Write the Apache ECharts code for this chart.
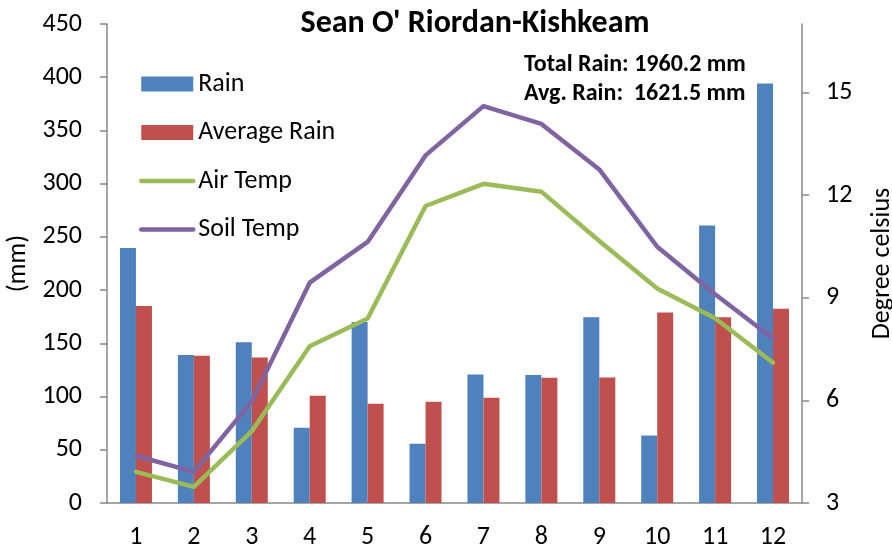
<!DOCTYPE html>
<html>
<head>
<meta charset="utf-8">
<title>Sean O' Riordan-Kishkeam</title>
<script src="https://cdn.jsdelivr.net/npm/echarts@6/dist/echarts.min.js"></script>
<style>
  html, body { margin: 0; padding: 0; background: #fff; }
  #chart { width: 892px; height: 549px; }
</style>
</head>
<body>
<div id="chart"></div>
<script>
const months = ['1', '2', '3', '4', '5', '6', '7', '8', '9', '10', '11', '12']
const rain = [239.5, 139, 151, 70.7, 170, 55.7, 120.8, 120.2, 174.4, 63.5, 260.6, 394]
const avgRain = [185, 138.4, 136.8, 100.8, 93.3, 95.2, 98.9, 117.7, 118, 179, 174.4, 182.5]
const airTemp = [3.91, 3.47, 5.1, 7.58, 8.39, 11.68, 12.33, 12.1, 10.66, 9.27, 8.4, 7.1]
const soilTemp = [4.38, 3.91, 5.97, 9.44, 10.63, 13.16, 14.6, 14.08, 12.75, 10.49, 9.1, 7.81]
const tempTicks = [3, 6, 9, 12, 15]
const notes = ['Total Rain: 1960.2 mm', 'Avg. Rain:  1621.5 mm']

const font = 'Carlito, Lato, "Open Sans", sans-serif'
const axisGray = '#898989'

const chart = echarts.init(document.getElementById('chart'))

chart.setOption({
  backgroundColor: '#fff',
  animation: false,
  textStyle: { fontFamily: font, color: '#000' },
  title: {
    text: "Sean O' Riordan-Kishkeam",
    left: 470,
    textAlign: 'center',
    top: 3,
    textStyle: { fontFamily: font, fontSize: 32, fontWeight: 'bold', color: '#000' }
  },
  graphic: notes.map((t, i) => ({
    type: 'text',
    left: 524,
    top: 53 + i * 29,
    style: { text: t, fontFamily: font, fontSize: 24, fontWeight: 'bold', fill: '#000' }
  })),
  legend: {
    orient: 'vertical',
    left: 134,
    top: 66,
    itemWidth: 52,
    itemHeight: 15,
    itemGap: 22.5,
    lineStyle: { width: 4.5, cap: 'round' },
    textStyle: { fontFamily: font, fontSize: 26, color: '#000', lineHeight: 26 },
    data: [
      { name: 'Rain', icon: 'rect' },
      { name: 'Average Rain', icon: 'rect' },
      { name: 'Air Temp', itemStyle: { opacity: 0 } },
      { name: 'Soil Temp', itemStyle: { opacity: 0 } }
    ]
  },
  grid: { left: 107, right: 90, top: 24, bottom: 46, outerBoundsMode: 'none' },
  xAxis: {
    type: 'category',
    data: months,
    axisLine: { lineStyle: { color: axisGray, width: 1.5 } },
    axisTick: { length: 7, lineStyle: { color: axisGray, width: 1.5 } },
    axisLabel: { fontFamily: font, fontSize: 26, color: '#000', margin: 21 }
  },
  yAxis: [
    {
      type: 'value',
      min: 0,
      max: 450,
      interval: 50,
      name: '(mm)',
      nameLocation: 'middle',
      nameRotate: 90,
      nameGap: 76,
      nameTextStyle: { fontFamily: font, fontSize: 26, color: '#000' },
      splitLine: { show: false },
      axisLine: { show: true, lineStyle: { color: axisGray, width: 1.5 } },
      axisTick: { show: true, length: 7, lineStyle: { color: axisGray, width: 1.5 } },
      axisLabel: { fontFamily: font, fontSize: 26, color: '#000', margin: 25 }
    },
    {
      type: 'value',
      min: 3,
      max: 17,
      name: 'Degree celsius',
      nameLocation: 'middle',
      nameRotate: 90,
      nameGap: 67,
      nameTextStyle: { fontFamily: font, fontSize: 26, color: '#000' },
      splitLine: { show: false },
      axisLine: { show: true, lineStyle: { color: axisGray, width: 1.5 } },
      axisTick: { show: true, length: 7, customValues: tempTicks, lineStyle: { color: axisGray, width: 1.5 } },
      axisLabel: { fontFamily: font, fontSize: 26, color: '#000', margin: 24, customValues: tempTicks }
    }
  ],
  series: [
    {
      name: 'Rain',
      type: 'bar',
      data: rain,
      barWidth: 16,
      barGap: '0%',
      itemStyle: { color: '#4F81BD' }
    },
    {
      name: 'Average Rain',
      type: 'bar',
      data: avgRain,
      barWidth: 16,
      barGap: '0%',
      itemStyle: { color: '#C0504D' }
    },
    {
      name: 'Air Temp',
      type: 'line',
      yAxisIndex: 1,
      data: airTemp,
      symbol: 'none',
      lineStyle: { color: '#9BBB59', width: 4.5, cap: 'round', join: 'round' },
      itemStyle: { color: '#9BBB59' }
    },
    {
      name: 'Soil Temp',
      type: 'line',
      yAxisIndex: 1,
      data: soilTemp,
      symbol: 'none',
      lineStyle: { color: '#8064A2', width: 4.5, cap: 'round', join: 'round' },
      itemStyle: { color: '#8064A2' }
    }
  ]
})

window.addEventListener('resize', () => chart.resize())
</script>
</body>
</html>
